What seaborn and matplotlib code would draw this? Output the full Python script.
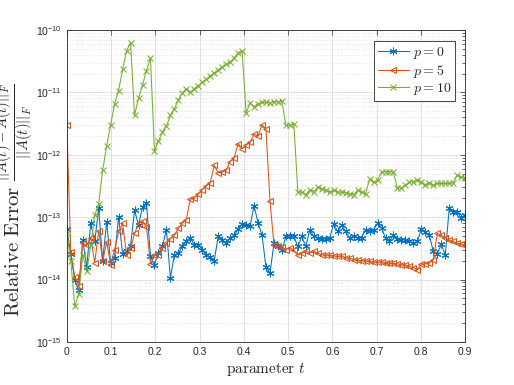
import numpy as np
import matplotlib
matplotlib.use('Agg')
import matplotlib.pyplot as plt
import matplotlib.ticker as mticker
import seaborn as sns

# parameter grid (101 samples on [0, 0.9])
t = np.linspace(0, 0.9, 101)

# log10 of the relative error
log_err_p0 = [
    -13.19, -13.59, -14.01, -14.17, -13.36, -13.80, -13.10, -13.39, -12.86, -13.70,
    -13.08, -13.73, -13.65, -12.99, -13.59, -13.55, -13.46, -12.89, -13.13, -12.84,
    -12.77, -13.63, -13.76, -13.58, -13.47, -13.20, -13.97, -13.61, -13.58, -13.47,
    -13.39, -13.33, -13.45, -13.44, -13.52, -13.60, -13.64, -13.70, -13.31, -13.36,
    -13.42, -13.34, -13.29, -13.19, -13.11, -13.12, -13.14, -12.82, -13.09, -13.29,
    -13.80, -13.90, -13.42, -13.47, -13.53, -13.31, -13.30, -13.31, -13.47, -13.31,
    -13.47, -13.20, -13.31, -13.34, -13.35, -13.35, -13.33, -13.11, -13.23, -13.13,
    -13.23, -13.33, -13.31, -13.33, -13.33, -13.20, -13.23, -13.20, -13.10, -13.17,
    -13.34, -13.39, -13.29, -13.35, -13.36, -13.36, -13.39, -13.42, -13.39, -13.19,
    -13.24, -13.29, -13.55, -13.59, -13.43, -13.61, -12.85, -12.92, -12.92, -13.01,
    -12.96]

log_err_p5 = [
    -11.53, -13.56, -13.96, -14.10, -13.42, -13.45, -13.33, -13.73, -13.22, -13.71,
    -13.40, -13.76, -13.52, -13.23, -13.10, -13.60, -13.50, -13.26, -13.11, -13.06,
    -13.16, -13.75, -13.61, -13.61, -13.50, -13.42, -13.35, -13.29, -13.18, -13.10,
    -13.04, -12.71, -12.70, -12.63, -12.56, -12.50, -12.45, -12.17, -12.29, -12.28,
    -12.25, -12.11, -12.05, -11.82, -11.90, -11.85, -11.80, -11.67, -11.70, -11.52,
    -11.59, -12.74, -13.44, -13.46, -13.48, -13.52, -13.49, -13.53, -13.61, -13.58,
    -13.55, -13.57, -13.55, -13.58, -13.60, -13.61, -13.61, -13.62, -13.63, -13.62,
    -13.65, -13.66, -13.68, -13.69, -13.70, -13.70, -13.71, -13.72, -13.72, -13.72,
    -13.73, -13.74, -13.74, -13.75, -13.76, -13.77, -13.79, -13.81, -13.84, -13.75,
    -13.75, -13.74, -13.68, -13.26, -13.29, -13.33, -13.37, -13.39, -13.42, -13.43,
    -13.45]

log_err_p10 = [
    -13.26, -13.71, -14.43, -14.24, -13.60, -13.87, -13.45, -12.97, -12.79, -12.25,
    -11.86, -11.52, -11.18, -10.97, -10.63, -10.33, -10.20, -11.37, -11.09, -10.88,
    -10.65, -10.45, -11.94, -11.78, -11.63, -11.54, -11.37, -11.26, -11.12, -11.01,
    -10.94, -11.00, -10.94, -10.89, -10.84, -10.79, -10.74, -10.69, -10.64, -10.59,
    -10.55, -10.51, -10.45, -10.37, -10.33, -11.33, -11.17, -11.23, -11.18, -11.16,
    -11.16, -11.17, -11.15, -11.15, -11.14, -11.53, -11.52, -11.51, -12.60, -12.60,
    -12.64, -12.56, -12.59, -12.52, -12.55, -12.57, -12.60, -12.57, -12.60, -12.60,
    -12.61, -12.63, -12.64, -12.57, -12.60, -12.63, -12.39, -12.44, -12.41, -12.28,
    -12.27, -12.27, -12.28, -12.54, -12.53, -12.49, -12.44, -12.43, -12.40, -12.44,
    -12.48, -12.45, -12.49, -12.46, -12.46, -12.46, -12.46, -12.45, -12.33, -12.36,
    -12.38]

labels = ['$p=0$', '$p=5$', '$p=10$']
colors = ['#0072BD', '#D95319', '#77AC30']
markers = [(6, 2, 0), '<', 'x']
msizes = [5.5, 5, 4]

sns.set_style('white')
plt.rcParams['mathtext.fontset'] = 'cm'
plt.rcParams['font.family'] = ['Liberation Sans', 'DejaVu Sans']

fig = plt.figure(figsize=(5.14, 3.85), dpi=100)
ax = fig.add_axes([0.13, 0.112, 0.775, 0.81])

series = [log_err_p0, log_err_p5, log_err_p10]
for vals, lab, c, m, ms in zip(series, labels, colors, markers, msizes):
    err = 10.0 ** np.array(vals)
    sns.lineplot(x=t, y=err, ax=ax, label=lab, color=c, marker=m,
                 markersize=ms, markerfacecolor='none',
                 markeredgecolor=c, markeredgewidth=0.75, linewidth=0.75)

ax.set_yscale('log')
ax.set_xlim(0, 0.9)
ax.set_ylim(1e-15, 1e-10)
ax.set_xticks(np.arange(0, 0.91, 0.1))
ax.set_xticklabels(['0', '0.1', '0.2', '0.3', '0.4', '0.5', '0.6', '0.7', '0.8', '0.9'])
ax.yaxis.set_major_locator(mticker.LogLocator(base=10, numticks=10))
ax.yaxis.set_minor_locator(mticker.LogLocator(base=10, subs=np.arange(2, 10), numticks=20))
ax.yaxis.set_minor_formatter(mticker.NullFormatter())

ax.grid(True, which='major', color='#dcdcdc', linewidth=0.6, linestyle='-')
ax.grid(True, which='minor', axis='y', color='#cfcfcf', linewidth=0.5, linestyle=(0, (1, 2.5)))
ax.set_axisbelow(True)

ax.tick_params(which='both', direction='in', top=True, right=True,
               colors='#262626', labelsize=7.5, width=0.5)
ax.tick_params(which='major', length=3.5)
ax.tick_params(which='minor', length=2)
for s in ax.spines.values():
    s.set_color('#262626')
    s.set_linewidth(0.6)

ax.set_xlabel(r'$\mathrm{parameter}\ t$', fontsize=11, labelpad=3)
ax.set_ylabel(r'$\mathrm{Relative\ Error}\ \frac{||A(t)-\hat{A}(t)||_F}{||A(t)||_F}$',
              fontsize=15)
ax.yaxis.set_label_coords(-0.077, 0.455)

leg = ax.legend(loc='upper right', bbox_to_anchor=(0.975, 0.965), fontsize=10,
                frameon=True, fancybox=False, framealpha=1, edgecolor='#262626',
                handlelength=2.2, borderpad=0.3, labelspacing=0.1, handletextpad=0.3,
                borderaxespad=0)
leg.get_frame().set_linewidth(0.6)

fig.savefig('out.png', dpi=100)
